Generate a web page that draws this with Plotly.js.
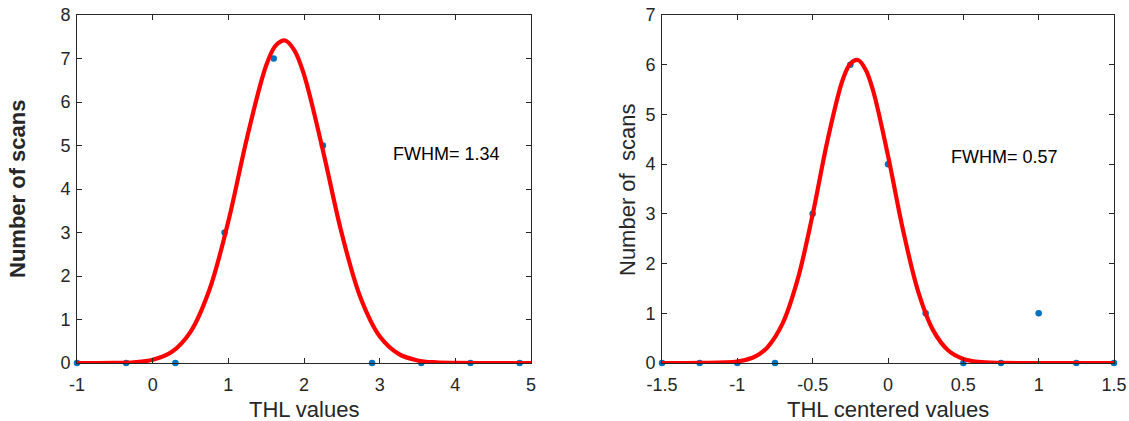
<!DOCTYPE html>
<html>
<head>
<meta charset="utf-8">
<script src="https://cdn.plot.ly/plotly-3.0.1.min.js"></script>
<style>html,body{margin:0;padding:0;background:#fff;}#chart{width:1129px;height:421px;}</style>
</head>
<body>
<div id="chart"></div>
<script>
// ---- Left panel: THL values ----
const leftX = [-1, -0.35, 0.3, 0.95, 1.6, 2.25, 2.9, 3.55, 4.2, 4.85];
const leftCounts = [0, 0, 0, 3, 7, 5, 0, 0, 0, 0];
// Gaussian fit curve
const leftFitX = [-1, -0.5, -0.25, 0, 0.25, 0.5, 0.75, 1.0, 1.25, 1.5, 1.625, 1.75, 1.875, 2.0, 2.25, 2.5, 2.75, 3.0, 3.25, 3.5, 3.75, 4, 4.5, 5];
const leftFitY = [0, 0.003, 0.017, 0.073, 0.252, 0.717, 1.684, 3.258, 5.198, 6.838, 7.295, 7.415, 7.183, 6.630, 4.887, 2.970, 1.488, 0.614, 0.209, 0.059, 0.014, 0.003, 0, 0];
const leftXTicks = [-1, 0, 1, 2, 3, 4, 5];
const leftXTickText = ["-1", "0", "1", "2", "3", "4", "5"];
const leftYTicks = [0, 1, 2, 3, 4, 5, 6, 7, 8];

// ---- Right panel: THL centered values ----
const rightX = [-1.5, -1.25, -1, -0.75, -0.5, -0.25, 0, 0.25, 0.5, 0.75, 1, 1.25, 1.5];
const rightCounts = [0, 0, 0, 0, 3, 6, 4, 1, 0, 0, 1, 0, 0];
const rightFitX = [-1.5, -1.25, -1.0, -0.9, -0.85, -0.8, -0.7, -0.6, -0.5, -0.4, -0.3, -0.25, -0.2, -0.15, -0.1, 0, 0.1, 0.2, 0.3, 0.4, 0.5, 0.6, 0.75, 1.0, 1.5];
const rightFitY = [0, 0.001, 0.030, 0.106, 0.187, 0.316, 0.792, 1.676, 2.990, 4.496, 5.701, 6.021, 6.094, 5.909, 5.491, 4.171, 2.671, 1.442, 0.656, 0.252, 0.082, 0.022, 0.002, 0, 0];
const rightXTicks = [-1.5, -1, -0.5, 0, 0.5, 1, 1.5];
const rightXTickText = ["-1.5", "-1", "-0.5", "0", "0.5", "1", "1.5"];
const rightYTicks = [0, 1, 2, 3, 4, 5, 6, 7];

const fwhmLabels = ["FWHM= 1.34", "FWHM= 0.57"];
const titles = {
  leftX: "THL values", leftY: "<b>Number of scans</b>",
  rightX: "THL centered values", rightY: "Number of\u00a0 scans"
};

const FONT = "Liberation Sans, Arial, Helvetica, sans-serif";
const AX = "#262626";
const BLUE = "#0072BD";

const traces = [
  {x: leftX, y: leftCounts, xaxis: "x", yaxis: "y", mode: "markers", type: "scatter",
   marker: {color: BLUE, size: 6.5}, cliponaxis: false, showlegend: false},
  {x: leftFitX, y: leftFitY, xaxis: "x", yaxis: "y", mode: "lines", type: "scatter",
   line: {color: "#FF0000", width: 4.2, shape: "spline"}, showlegend: false},
  {x: rightX, y: rightCounts, xaxis: "x2", yaxis: "y2", mode: "markers", type: "scatter",
   marker: {color: BLUE, size: 6.5}, cliponaxis: false, showlegend: false},
  {x: rightFitX, y: rightFitY, xaxis: "x2", yaxis: "y2", mode: "lines", type: "scatter",
   line: {color: "#FF0000", width: 4.2, shape: "spline"}, showlegend: false}
];

function axisBase(isX) {
  return {
    showline: true, mirror: "ticks", linecolor: AX, linewidth: 1,
    ticks: "inside", ticklen: 5, tickcolor: AX, tickwidth: 1,
    showgrid: false, zeroline: false, fixedrange: true,
    ticklabelstandoff: isX ? 5 : 2,
    tickfont: {family: FONT, size: 18, color: AX}
  };
}

const W = 1129, H = 421;
const yDom = [1 - 363 / H, 1 - 15 / H];

const layout = {
  width: W, height: H,
  margin: {l: 0, r: 0, t: 0, b: 0},
  paper_bgcolor: "#fff", plot_bgcolor: "#fff",
  font: {family: FONT, color: AX},
  xaxis: Object.assign(axisBase(true), {domain: [77 / W, 531 / W], range: [-1, 5], anchor: "y",
    tickmode: "array", tickvals: leftXTicks, ticktext: leftXTickText}),
  yaxis: Object.assign(axisBase(false), {domain: yDom, range: [0, 8], anchor: "x",
    tickmode: "array", tickvals: leftYTicks}),
  xaxis2: Object.assign(axisBase(true), {domain: [662 / W, 1114 / W], range: [-1.5, 1.5], anchor: "y2",
    tickmode: "array", tickvals: rightXTicks, ticktext: rightXTickText}),
  yaxis2: Object.assign(axisBase(false), {domain: yDom, range: [0, 7], anchor: "x2",
    tickmode: "array", tickvals: rightYTicks}),
  annotations: [
    {xref: "paper", yref: "paper", x: 304 / W, y: 1 - 409 / H, text: titles.leftX, showarrow: false,
     xanchor: "center", yanchor: "middle", font: {family: FONT, size: 22, color: AX}},
    {xref: "paper", yref: "paper", x: 18 / W, y: 1 - 189 / H, text: titles.leftY, showarrow: false,
     textangle: -90, xanchor: "center", yanchor: "middle", font: {family: FONT, size: 22, color: AX}},
    {xref: "paper", yref: "paper", x: 888 / W, y: 1 - 409 / H, text: titles.rightX, showarrow: false,
     xanchor: "center", yanchor: "middle", font: {family: FONT, size: 22, color: AX}},
    {xref: "paper", yref: "paper", x: 628 / W, y: 1 - 190 / H, text: titles.rightY, showarrow: false,
     textangle: -90, xanchor: "center", yanchor: "middle", font: {family: FONT, size: 22, color: AX}},
    {xref: "x", yref: "y", x: 3.145, y: 4.80, text: fwhmLabels[0], showarrow: false,
     xanchor: "left", yanchor: "middle", font: {family: FONT, size: 18, color: "#000"}},
    {xref: "x2", yref: "y2", x: 0.407, y: 4.136, text: fwhmLabels[1], showarrow: false,
     xanchor: "left", yanchor: "middle", font: {family: FONT, size: 18, color: "#000"}}
  ]
};

Plotly.newPlot("chart", traces, layout, {staticPlot: true, displayModeBar: false});
</script>
</body>
</html>
